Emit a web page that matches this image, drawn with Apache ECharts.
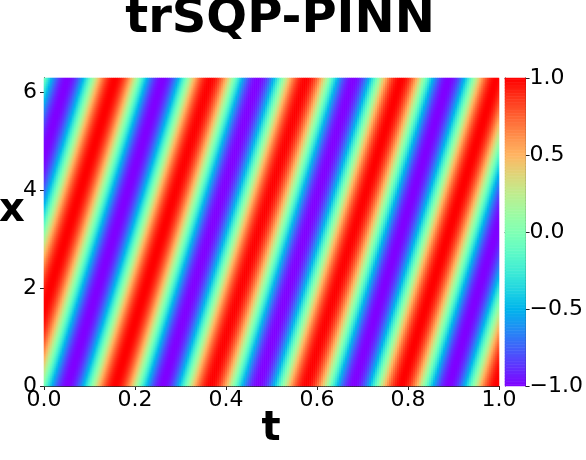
<!DOCTYPE html>
<html>
<head>
<meta charset="utf-8">
<script src="https://cdn.jsdelivr.net/npm/echarts@6/dist/echarts.min.js"></script>
<style>html,body{margin:0;padding:0;background:#fff}#c{width:586px;height:460px}</style>
</head>
<body>
<div id="c"></div>
<script>
// ---- data ----
const titleText = 'trSQP-PINN';
const tTicks = [0.0, 0.2, 0.4, 0.6, 0.8, 1.0];
const xTicks = [0, 2, 4, 6];
const cbTicks = [-1.0, -0.5, 0.0, 0.5, 1.0];
const tRange = [0, 1];
const xRange = [0, 6.283];
// centres of the red (u = 1) stripes along the bottom edge x = 0
const crestT = [0.157, 0.366, 0.576, 0.785, 0.995];
// shift in t of a stripe between the bottom (x = 0) and top (x = 2*pi) edges
const stripeShift = 0.2094;
const nT = 228, nX = 154, nCb = 200;

// ---- field built from the read stripe positions ----
const period = (crestT[crestT.length - 1] - crestT[0]) / (crestT.length - 1);
const tCats = [], xCats = [], field = [];
for (let i = 0; i < nT; i++) tCats.push(i);
for (let j = 0; j < nX; j++) xCats.push(j);
for (let i = 0; i < nT; i++) {
  const t = tRange[0] + (i + 0.5) / nT * (tRange[1] - tRange[0]);
  for (let j = 0; j < nX; j++) {
    const x = xRange[0] + (j + 0.5) / nX * (xRange[1] - xRange[0]);
    const tau = t - x / xRange[1] * stripeShift - crestT[0];
    field.push([i, j, Math.cos(2 * Math.PI * tau / period)]);
  }
}
const cbCats = [], cbData = [];
for (let k = 0; k < nCb; k++) { cbCats.push(k); cbData.push([0, k, -1 + 2 * (k + 0.5) / nCb]); }

// matplotlib 'rainbow' colormap stops
function rainbow(v) {
  const r = Math.min(1, Math.abs(2 * v - 0.5)), g = Math.sin(Math.PI * v), b = Math.cos(Math.PI * v / 2);
  const h = c => Math.round(Math.max(0, Math.min(1, c)) * 255).toString(16).padStart(2, '0');
  return '#' + h(r) + h(g) + h(b);
}
const stops = [];
for (let k = 0; k <= 32; k++) stops.push(rainbow(k / 32));

const FONT = 'DejaVu Sans';
const lineStyle = { color: '#222', width: 1 };
const G = { left: 44, top: 78, width: 455, height: 308 };
const CB = { left: 505, top: 78, width: 23, height: 308 };

const chart = echarts.init(document.getElementById('c'), null, { renderer: 'canvas' });
chart.setOption({
  animation: false,
  backgroundColor: '#fff',
  grid: [
    Object.assign({ containLabel: false }, G),
    Object.assign({ containLabel: false }, CB)
  ],
  xAxis: [
    { gridIndex: 0, type: 'category', data: tCats, position: 'top', boundaryGap: true,
      axisLine: { show: true, lineStyle }, axisTick: { show: false }, axisLabel: { show: false }, splitLine: { show: false } },
    { gridIndex: 0, type: 'value', min: tRange[0], max: tRange[1], interval: 0.2, position: 'bottom',
      axisLine: { show: true, onZero: false, lineStyle }, axisTick: { show: true, length: 4, lineStyle },
      splitLine: { show: false },
      axisLabel: { fontFamily: FONT, fontSize: 22, color: '#000', margin: 3, formatter: v => v.toFixed(1) } },
    { gridIndex: 1, type: 'category', data: [0], position: 'bottom', boundaryGap: true,
      axisLine: { show: true, lineStyle }, axisTick: { show: false }, axisLabel: { show: false } },
    { gridIndex: 1, type: 'category', data: [0], position: 'top', boundaryGap: true,
      axisLine: { show: true, lineStyle }, axisTick: { show: false }, axisLabel: { show: false } }
  ],
  yAxis: [
    { gridIndex: 0, type: 'category', data: xCats, position: 'right', boundaryGap: true,
      axisLine: { show: true, lineStyle }, axisTick: { show: false }, axisLabel: { show: false }, splitLine: { show: false } },
    { gridIndex: 0, type: 'value', min: 0, max: xRange[1], interval: 2, position: 'left',
      axisLine: { show: true, onZero: false, lineStyle }, axisTick: { show: true, length: 4, lineStyle },
      splitLine: { show: false },
      axisLabel: { fontFamily: FONT, fontSize: 22, color: '#000', margin: 7, showMaxLabel: false,
        formatter: v => xTicks.indexOf(v) >= 0 ? String(v) : '' } },
    { gridIndex: 1, type: 'category', data: cbCats, position: 'left', boundaryGap: true,
      axisLine: { show: true, lineStyle }, axisTick: { show: false }, axisLabel: { show: false } },
    { gridIndex: 1, type: 'value', min: -1, max: 1, interval: 0.5, position: 'right',
      axisLine: { show: true, onZero: false, lineStyle }, axisTick: { show: true, length: 4, lineStyle },
      splitLine: { show: false },
      axisLabel: { fontFamily: FONT, fontSize: 22, color: '#000', margin: 4,
        formatter: v => (v < 0 ? '\u2212' : '') + Math.abs(v).toFixed(1) } }
  ],
  visualMap: {
    type: 'continuous', show: false, min: -1, max: 1, seriesIndex: [0, 1],
    inRange: { color: stops }
  },
  series: [
    { type: 'heatmap', xAxisIndex: 0, yAxisIndex: 0, data: field, progressive: 0, emphasis: { disabled: true } },
    { type: 'heatmap', xAxisIndex: 2, yAxisIndex: 2, data: cbData, progressive: 0, emphasis: { disabled: true } },
    { type: 'scatter', xAxisIndex: 1, yAxisIndex: 1, data: [], silent: true },
    { type: 'scatter', xAxisIndex: 3, yAxisIndex: 3, data: [], silent: true }
  ],
  graphic: [
    { type: 'text', style: { text: titleText, x: 280, y: 20, fontFamily: FONT, fontWeight: 'bold', fontSize: 48, fill: '#000', textAlign: 'center', textVerticalAlign: 'middle' } },
    { type: 'text', style: { text: 'x', x: 12, y: 211, fontFamily: FONT, fontWeight: 'bold', fontSize: 40, fill: '#000', textAlign: 'center', textVerticalAlign: 'middle' } },
    { type: 'text', style: { text: 't', x: 271, y: 430, fontFamily: FONT, fontWeight: 'bold', fontSize: 40, fill: '#000', textAlign: 'center', textVerticalAlign: 'middle' } }
  ]
});
</script>
</body>
</html>
